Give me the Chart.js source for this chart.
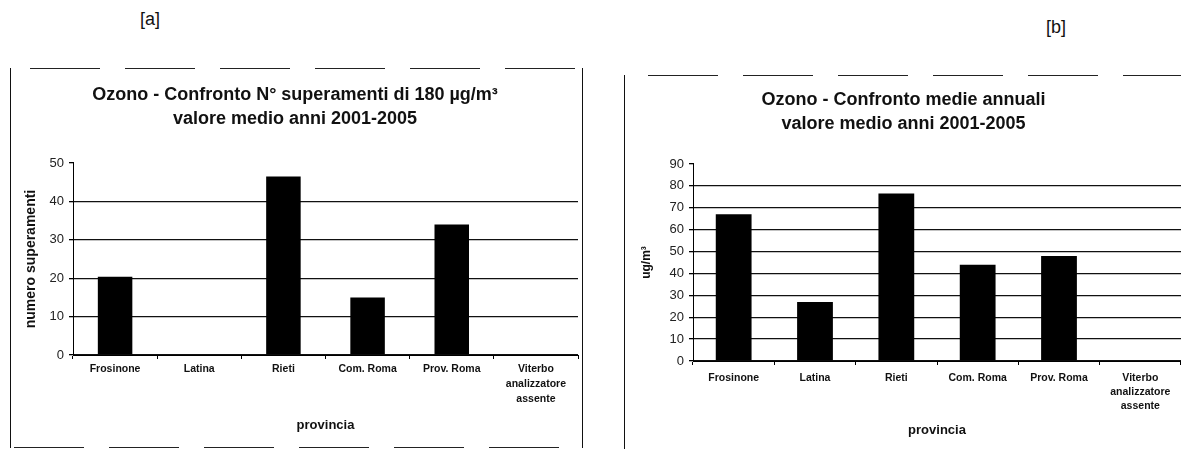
<!DOCTYPE html>
<html>
<head>
<meta charset="utf-8">
<script src="https://cdn.jsdelivr.net/npm/chart.js@4"></script>
<style>
  body { margin: 0; background: #fff; width: 1181px; height: 449px; overflow: hidden; position: relative; font-family: "Liberation Sans", Arial, sans-serif; }
  .tag { position: absolute; font-size: 18px; color: #111; }
  .frame { position: absolute; box-sizing: border-box; }
  .dash { position: absolute; height: 1px; background: repeating-linear-gradient(90deg, #222 0 70px, transparent 70px 95px); }
  canvas { position: absolute; }
</style>
</head>
<body>
<div class="tag" style="left:140px; top:9px;">[a]</div>
<div class="tag" style="left:1046px; top:17px;">[b]</div>

<div class="frame" style="left:10px; top:68px; width:573px; height:380px; border-left:1.5px solid #111; border-right:1px solid #111;"></div>
<div class="dash" style="left:30px; top:68px; width:552px;"></div>
<div class="dash" style="left:14px; top:447px; width:566px;"></div>
<canvas id="chartA" width="568" height="376" style="left:12px; top:70px;"></canvas>

<div class="frame" style="left:624px; top:75px; width:560px; height:380px; border-left:1px solid #111;"></div>
<div class="dash" style="left:648px; top:75px; width:533px;"></div>
<canvas id="chartB" width="555" height="372" style="left:626px; top:77px;"></canvas>

<script>
const categories = ['Frosinone', 'Latina', 'Rieti', 'Com. Roma', 'Prov. Roma', ['Viterbo', 'analizzatore', 'assente']];
const superamenti = [20.4, 0, 46.5, 15, 34, null];
const medie = [67, 27, 76.5, 44, 48, null];

const fontFamily = '"Liberation Sans", Arial, sans-serif';

function makeChart(id, values, opts) {
  const ctx = document.getElementById(id).getContext('2d');
  return new Chart(ctx, {
    type: 'bar',
    data: {
      labels: categories,
      datasets: [{
        data: values,
        backgroundColor: '#000',
        borderWidth: 0,
        categoryPercentage: 1,
        barPercentage: opts.barPct
      }]
    },
    options: {
      responsive: false,
      animation: false,
      layout: { padding: { left: 0, right: opts.padRight, top: 0, bottom: 0 } },
      plugins: {
        legend: { display: false },
        tooltip: { enabled: false },
        title: {
          display: true,
          text: opts.title,
          color: '#111',
          font: { family: fontFamily, size: 18, weight: 'bold', lineHeight: 1.333 },
          padding: { top: opts.titleTop, bottom: opts.titleBottom }
        }
      },
      scales: {
        x: {
          grid: { display: true, drawOnChartArea: false, color: '#000', tickLength: 4, offset: true },
          border: { display: true, color: '#000', width: 1 },
          ticks: {
            color: '#111',
            padding: opts.xTickPad,
            maxRotation: 0,
            autoSkip: false,
            font: { family: fontFamily, size: 10.5, weight: 'bold', lineHeight: opts.xLineHeight }
          },
          title: {
            display: true,
            text: 'provincia',
            color: '#111',
            font: { family: fontFamily, size: 13, weight: 'bold', lineHeight: 1.2 },
            padding: { top: 0, bottom: opts.xTitlePad }
          },
          afterFit: (scale) => { scale.height = opts.xHeight; }
        },
        y: {
          min: 0,
          max: opts.yMax,
          grid: {
            color: (c) => (c.tick && c.tick.value === opts.yMax) ? 'rgba(0,0,0,0)' : '#111',
            tickColor: '#000',
            lineWidth: 1.3,
            tickLength: 4
          },
          border: { display: true, color: '#000', width: 1 },
          ticks: {
            stepSize: 10,
            color: '#222',
            padding: 5,
            font: { family: fontFamily, size: 13 }
          },
          title: {
            display: true,
            text: opts.yTitle,
            color: '#111',
            font: { family: fontFamily, size: opts.yTitleSize, weight: 'bold', lineHeight: 1.2 },
            padding: { top: opts.yTitlePad, bottom: 0 }
          },
          afterFit: (scale) => { scale.width = opts.yWidth; }
        }
      }
    }
  });
}

makeChart('chartA', superamenti, {
  title: ['Ozono - Confronto N° superamenti di 180 µg/m³', 'valore medio anni 2001-2005'],
  titleTop: 13, titleBottom: 32,
  barPct: 0.41, padRight: 2,
  xTickPad: 3, xLineHeight: '15px', xTitlePad: 13, xHeight: 91,
  yMax: 50, yTitle: 'numero superamenti', yTitleSize: 14, yTitlePad: 11, yWidth: 61
});

makeChart('chartB', medie, {
  title: ['Ozono - Confronto medie annuali', 'valore medio anni 2001-2005'],
  titleTop: 11, titleBottom: 28,
  barPct: 0.44, padRight: 0,
  xTickPad: 6, xLineHeight: '14px', xTitlePad: 11, xHeight: 88,
  yMax: 90, yTitle: 'ug/m³', yTitleSize: 12, yTitlePad: 13, yWidth: 67
});
</script>
</body>
</html>
